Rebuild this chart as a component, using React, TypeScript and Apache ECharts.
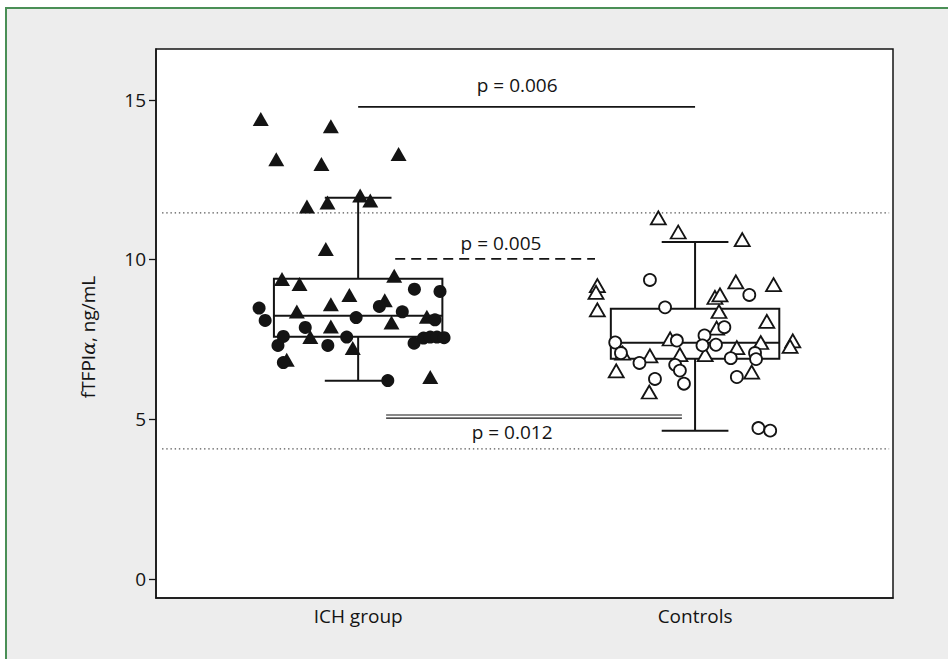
import React, { useEffect, useRef } from "react";
import * as echarts from "echarts";

// ---- data ----
const categories = ["ICH group", "Controls"];
const categoryPos = [1, 2];
const yTicks = [0, 5, 10, 15];

// box stats: [position, min, Q1, median, Q3, max]
const ichBox = [1, 6.2, 7.58, 8.24, 9.4, 11.93];
const controlBox = [2, 4.64, 6.89, 7.39, 8.46, 10.55];

// points: [jitter from group centre, value]
const ichTriangles: [number, number][] = [
  [-0.289, 14.4], [-0.081, 14.17], [-0.243, 13.14], [-0.109, 12.99], [0.12, 13.3],
  [-0.152, 11.66], [-0.091, 11.78], [0.006, 12.0], [0.036, 11.85], [-0.096, 10.33],
  [-0.226, 9.39], [-0.174, 9.23], [0.107, 9.49], [-0.026, 8.89], [-0.081, 8.6],
  [0.079, 8.72], [-0.182, 8.37], [0.204, 8.21], [0.099, 8.03], [-0.081, 7.9],
  [-0.142, 7.57], [-0.016, 7.23], [-0.212, 6.86], [0.214, 6.32],
];
const ichCircles: [number, number][] = [
  [-0.294, 8.48], [-0.276, 8.09], [-0.222, 7.59], [-0.238, 7.31], [-0.157, 7.87],
  [-0.09, 7.31], [-0.034, 7.57], [-0.006, 8.18], [0.063, 8.53], [0.131, 8.36],
  [0.167, 9.07], [0.243, 9.0], [0.228, 8.11], [0.166, 7.38], [0.194, 7.54],
  [0.214, 7.57], [0.234, 7.57], [0.255, 7.55], [-0.222, 6.77], [0.088, 6.21],
];
const controlTriangles: [number, number][] = [
  [-0.109, 11.3], [-0.05, 10.86], [0.14, 10.62], [-0.29, 9.18], [-0.294, 8.97],
  [-0.29, 8.42], [0.121, 9.3], [0.233, 9.21], [0.059, 8.81], [0.074, 8.89],
  [0.071, 8.37], [0.213, 8.06], [0.064, 7.85], [-0.074, 7.51], [0.29, 7.45],
  [0.282, 7.28], [0.195, 7.4], [0.124, 7.24], [-0.134, 6.98], [-0.045, 7.02],
  [0.03, 7.02], [-0.215, 7.07], [-0.234, 6.51], [0.168, 6.47], [-0.136, 5.85],
];
const controlCircles: [number, number][] = [
  [-0.134, 9.36], [0.161, 8.89], [-0.089, 8.5], [0.087, 7.88], [0.028, 7.62],
  [-0.054, 7.46], [-0.237, 7.4], [0.022, 7.31], [0.062, 7.33], [-0.22, 7.07],
  [0.178, 7.07], [0.181, 6.88], [0.106, 6.91], [-0.165, 6.76], [-0.059, 6.7],
  [-0.045, 6.52], [-0.119, 6.26], [0.124, 6.32], [-0.033, 6.11], [0.188, 4.72],
  [0.223, 4.64],
];

// reference (dotted) lines: value
const refLines = [11.46, 4.07];
const refSpan = [0.418, 2.576];

// p-value brackets
const pLabels = ["p = 0.006", "p = 0.005", "p = 0.012"];
const pLineStart = [1.0, 1.11, 1.083];
const pLineEnd = [2.0, 1.703, 1.961];
const pLineY = [14.78, 10.02, 5.08];
const pTextX = [1.472, 1.424, 1.457];
const pTextY = [15.47, 10.52, 4.6];
const pStyles = ["solid", "dashed", "double"];

const FONT = "'Open Sans', 'Noto Sans', sans-serif";
const INK = "#141414";

export default function App() {
  const ref = useRef<HTMLDivElement>(null);
  useEffect(() => {
    if (!ref.current) return;
    const chart = echarts.init(ref.current, undefined, { renderer: "svg" });
    const jit = (pts: [number, number][], c: number) => pts.map((p) => [c + p[0], p[1]]);
    const boxHalf = 0.25;
    const capHalf = 0.099;

    const annData: any[] = [];
    refLines.forEach((v) => annData.push([refSpan[0], refSpan[1], v, 0, 0, "dotted", ""]));
    pLabels.forEach((t, i) =>
      annData.push([pLineStart[i], pLineEnd[i], pLineY[i], pTextX[i], pTextY[i], pStyles[i], t])
    );

    chart.setOption({
      animation: false,
      grid: {
        left: 156, right: 55, top: 49, bottom: 61,
        show: true, backgroundColor: "#ffffff", borderColor: INK, borderWidth: 1.5,
      },
      xAxis: {
        type: "value", min: 0.4, max: 2.5875,
        axisLine: { show: true, onZero: false, lineStyle: { color: INK, width: 1.5 } },
        axisTick: { show: false },
        splitLine: { show: false },
        axisLabel: {
          customValues: categoryPos,
          formatter: (v: number) => {
            const i = categoryPos.indexOf(Math.round(v));
            return i >= 0 ? categories[i] : "";
          },
          color: INK, fontSize: 19, fontFamily: FONT, margin: 8,
        },
      },
      yAxis: {
        type: "value", min: -0.6, max: 16.59,
        axisLine: { show: true, onZero: false, lineStyle: { color: INK, width: 1.5 } },
        axisTick: { show: true, customValues: yTicks, length: 7, lineStyle: { color: INK, width: 1.3 } },
        splitLine: { show: false },
        axisLabel: { customValues: yTicks, color: INK, fontSize: 19, fontFamily: FONT, margin: 10 },
      },
      graphic: [
        {
          type: "text", x: 88, y: 337, rotation: Math.PI / 2,
          style: {
            text: "{a|fTFPI}{b|α}{a|, ng/mL}",
            fontSize: 19, fontFamily: FONT, fill: INK,
            align: "center", verticalAlign: "middle",
            rich: {
              a: { fontSize: 19, fontFamily: FONT, fill: INK },
              b: { fontSize: 19, fontFamily: "'DejaVu Serif', serif", fontStyle: "italic", fill: INK },
            },
          },
        },
      ],
      series: [
        {
          type: "custom", z: 1, clip: false,
          data: [ichBox, controlBox],
          renderItem: (_p: any, api: any) => {
            const x = api.value(0), lo = api.value(1), q1 = api.value(2), med = api.value(3), q3 = api.value(4), hi = api.value(5);
            const tl = api.coord([x - boxHalf, q3]);
            const br = api.coord([x + boxHalf, q1]);
            const m = api.coord([x, med]);
            const top = api.coord([x, hi]);
            const bot = api.coord([x, lo]);
            const cl = api.coord([x - capHalf, hi])[0];
            const cr = api.coord([x + capHalf, hi])[0];
            const st = { stroke: INK, lineWidth: 2, fill: null };
            return {
              type: "group",
              children: [
                { type: "line", shape: { x1: m[0], y1: tl[1], x2: m[0], y2: top[1] }, style: st },
                { type: "line", shape: { x1: m[0], y1: br[1], x2: m[0], y2: bot[1] }, style: st },
                { type: "line", shape: { x1: cl, y1: top[1], x2: cr, y2: top[1] }, style: st },
                { type: "line", shape: { x1: cl, y1: bot[1], x2: cr, y2: bot[1] }, style: st },
                { type: "rect", shape: { x: tl[0], y: tl[1], width: br[0] - tl[0], height: br[1] - tl[1] }, style: { stroke: INK, lineWidth: 2, fill: "rgba(0,0,0,0)" } },
                { type: "line", shape: { x1: tl[0], y1: m[1], x2: br[0], y2: m[1] }, style: st },
              ],
            };
          },
        },
        {
          type: "custom", z: 1, clip: false,
          data: annData,
          renderItem: (p: any, api: any) => {
            const item = annData[p.dataIndex];
            const a = api.coord([item[0], item[2]]);
            const b = api.coord([item[1], item[2]]);
            const kind = item[5];
            const children: any[] = [];
            if (kind === "dotted") {
              children.push({ type: "line", shape: { x1: a[0], y1: a[1], x2: b[0], y2: b[1] }, style: { stroke: "#555555", lineWidth: 1.4, lineDash: [1.4, 2.8] } });
            } else if (kind === "solid") {
              children.push({ type: "line", shape: { x1: a[0], y1: a[1], x2: b[0], y2: b[1] }, style: { stroke: INK, lineWidth: 1.8 } });
            } else if (kind === "dashed") {
              children.push({ type: "line", shape: { x1: a[0], y1: a[1], x2: b[0], y2: b[1] }, style: { stroke: INK, lineWidth: 1.8, lineDash: [10, 6] } });
            } else if (kind === "double") {
              children.push({ type: "line", shape: { x1: a[0], y1: a[1] - 1.6, x2: b[0], y2: b[1] - 1.6 }, style: { stroke: INK, lineWidth: 1.2 } });
              children.push({ type: "line", shape: { x1: a[0], y1: a[1] + 1.6, x2: b[0], y2: b[1] + 1.6 }, style: { stroke: INK, lineWidth: 1.2 } });
            }
            if (item[6]) {
              const t = api.coord([item[3], item[4]]);
              children.push({
                type: "text", x: t[0], y: t[1],
                style: { text: item[6], fill: INK, fontSize: 19, fontFamily: FONT, align: "center", verticalAlign: "middle" },
              });
            }
            return { type: "group", children };
          },
        },
        {
          type: "scatter", z: 3, symbol: "triangle", symbolSize: [16, 14],
          data: jit(ichTriangles, categoryPos[0]),
          itemStyle: { color: INK, opacity: 1 },
        },
        {
          type: "scatter", z: 3, symbol: "circle", symbolSize: 13,
          data: jit(ichCircles, categoryPos[0]),
          itemStyle: { color: INK, opacity: 1 },
        },
        {
          type: "scatter", z: 3, symbol: "triangle", symbolSize: [15, 13],
          data: jit(controlTriangles, categoryPos[1]),
          itemStyle: { color: "#ffffff", borderColor: INK, borderWidth: 1.8, opacity: 1 },
        },
        {
          type: "scatter", z: 3, symbol: "circle", symbolSize: 12,
          data: jit(controlCircles, categoryPos[1]),
          itemStyle: { color: "#ffffff", borderColor: INK, borderWidth: 1.8, opacity: 1 },
        },
      ],
    });
    return () => chart.dispose();
  }, []);

  return (
    <div style={{ position: "fixed", left: 0, top: 0, width: 948, height: 659, background: "#ffffff", overflow: "hidden" }}>
      <div
        style={{
          position: "absolute", left: 5, top: 7, width: 960, height: 670,
          background: "#ededed", borderTop: "2px solid #4a8f56", borderLeft: "2px solid #4a8f56",
        }}
      />
      <div ref={ref} style={{ position: "absolute", left: 0, top: 0, width: 948, height: 659 }} />
    </div>
  );
}
